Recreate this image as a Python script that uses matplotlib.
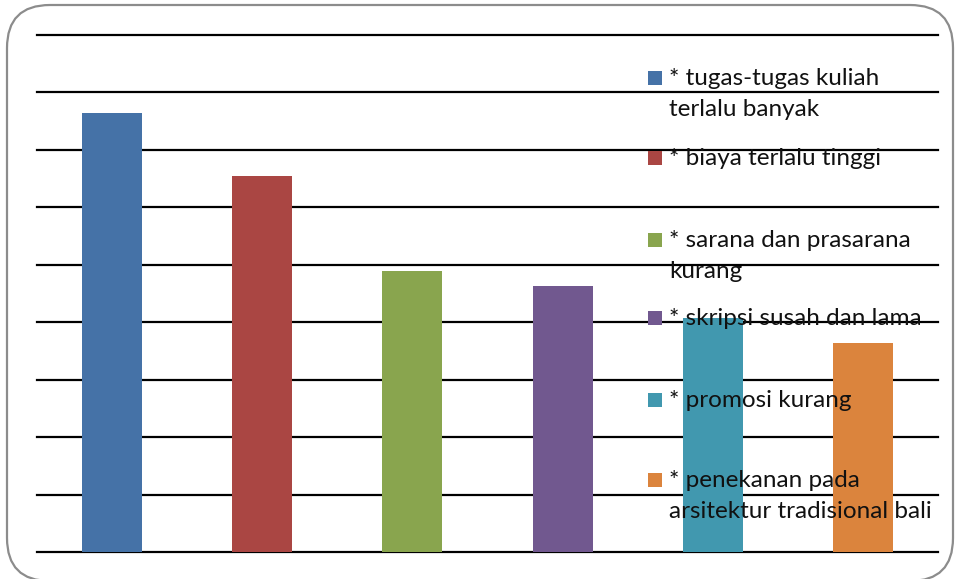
import matplotlib.pyplot as plt
from matplotlib.patches import FancyBboxPatch, Rectangle

# survey results: reasons (one bar each)
labels = ["* tugas-tugas kuliah\nterlalu banyak",
          "* biaya terlalu tinggi",
          "* sarana dan prasarana\nkurang",
          "* skripsi susah dan lama",
          "* promosi kurang",
          "* penekanan pada\narsitektur tradisional bali"]
values = [76.4, 65.5, 48.9, 46.3, 40.8, 36.3]
colors = ["#4572A7", "#AA4643", "#89A54E", "#71588F", "#4198AF", "#DB843D"]
yticks = list(range(0, 91, 10))

plt.rcParams['font.family'] = ['Lato', 'DejaVu Sans']

W, H = 956, 579
fig = plt.figure(figsize=(W / 100, H / 100), dpi=100)

# rounded frame round the whole chart
frame = FancyBboxPatch((7 / W, -2 / H), 946 / W, 576 / H,
                       boxstyle="round,pad=0,rounding_size=0.045",
                       transform=fig.transFigure, facecolor="none",
                       edgecolor="#8c8c8c", linewidth=1.6, mutation_aspect=W / H,
                       zorder=-1)
fig.patches.append(frame)

ax = fig.add_axes([37 / W, (H - 552) / H, (938 - 37) / W, (552 - 35) / H])
ax.patch.set_alpha(0)

x = range(len(values))
for y in yticks:
    ax.axhline(y, color="black", lw=1.6, zorder=1, clip_on=False)
ax.bar(x, values, width=0.4, color=colors, zorder=2)

ax.set_xlim(-0.5, len(values) - 0.5)
ax.set_ylim(0, 90)
ax.set_xticks([])
ax.set_yticks([])
for s in ax.spines.values():
    s.set_visible(False)

# legend drawn by hand, text sits over the bars and gridlines
leg_y = [78, 158, 240, 318, 400, 480]
for lab, c, yy in zip(labels, colors, leg_y):
    fig.patches.append(Rectangle((648 / W, (H - yy - 7) / H), 14 / W, 14 / H,
                                 transform=fig.transFigure, facecolor=c,
                                 edgecolor="none", zorder=5))
    fig.text(669 / W, (H - yy + 10) / H, lab, fontsize=17.5, va="top",
             ha="left", linespacing=1.6, zorder=6, color="#111111")

fig.savefig("out.png", dpi=100)
